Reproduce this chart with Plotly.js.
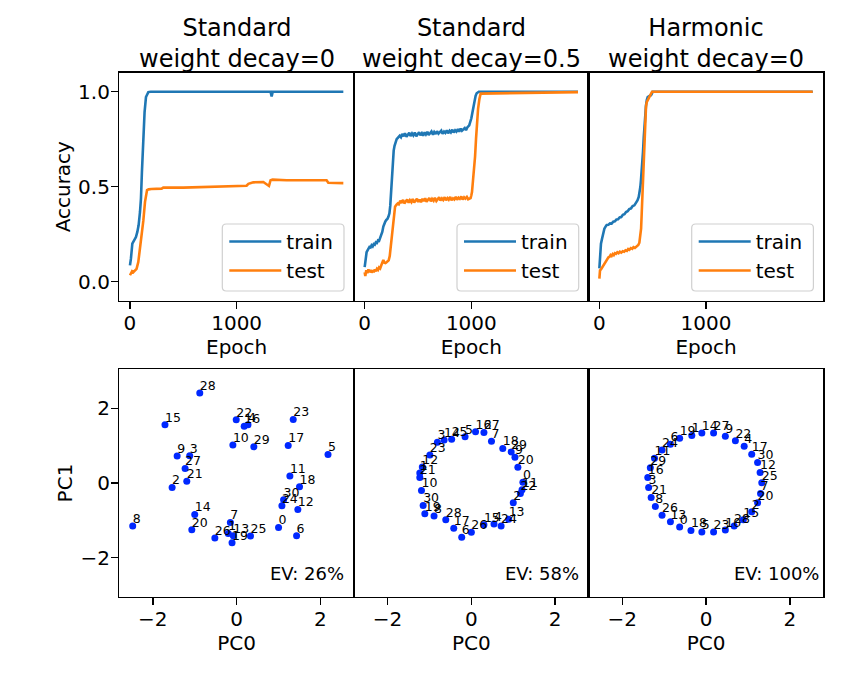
<!DOCTYPE html>
<html>
<head>
<meta charset="utf-8">
<script src="https://cdn.plot.ly/plotly-3.0.1.min.js"></script>
<style>html,body{margin:0;padding:0;background:#fff;}#chart{width:864px;height:698px;}</style>
</head>
<body>
<div id="chart"></div>
<script>
// ---------------- DATA ----------------
const panelTitles = ["Standard<br>weight decay=0", "Standard<br>weight decay=0.5", "Harmonic<br>weight decay=0"];
const evLabels = ["EV: 26%", "EV: 58%", "EV: 100%"];
const seriesNames = ["train", "test"];

// Panel 1: Standard, weight decay = 0
const epochTrain1 = [0, 9, 22, 37, 56, 69, 81, 94, 103, 112, 125, 137, 150, 172, 194, 600, 1000, 1300, 1318, 1328, 1338, 1360, 2000];
const accTrain1 = [0.086, 0.121, 0.200, 0.218, 0.235, 0.262, 0.297, 0.367, 0.437, 0.577, 0.753, 0.893, 0.972, 0.998, 1.0, 1.0, 1.0, 1.0, 1.0, 0.975, 1.0, 1.0, 1.0];
const epochTest1 = [0, 10, 20, 31, 47, 62, 78, 94, 109, 125, 141, 150, 160, 175, 200, 297, 312, 500, 781, 800, 1093, 1110, 1156, 1250, 1281, 1303, 1318, 1337, 1468, 1843, 1859, 1968, 2000];
const accTest1 = [0.034, 0.045, 0.055, 0.050, 0.060, 0.068, 0.103, 0.174, 0.230, 0.320, 0.420, 0.465, 0.482, 0.486, 0.488, 0.490, 0.495, 0.495, 0.498, 0.502, 0.505, 0.515, 0.523, 0.525, 0.511, 0.504, 0.534, 0.537, 0.534, 0.534, 0.521, 0.519, 0.519];

// Panel 2: Standard, weight decay = 0.5
const epochTrain2 = [0, 9, 18, 27, 36, 45, 55, 65, 75, 85, 95, 105, 115, 125, 135, 145, 155, 165, 175, 183, 193, 203, 213, 223, 232, 240, 247, 253, 259, 265, 272, 280, 290, 300, 315, 328,
  340, 352, 366, 378, 392, 404, 418, 430, 444, 456, 470, 484, 496, 510, 522, 536, 548, 562, 574, 588, 600, 614, 626, 640, 652, 666, 678, 692, 704, 718, 730, 744, 756, 770, 782, 796, 808, 822, 834, 848, 860, 874, 886, 900, 912, 926, 938, 950, 962,
  980, 990, 1000, 1010, 1020, 1030, 1040, 1050, 1060, 1070, 2000];
const accTrain2 = [0.077, 0.120, 0.155, 0.165, 0.172, 0.183, 0.180, 0.192, 0.186, 0.198, 0.195, 0.207, 0.204, 0.217, 0.215, 0.232, 0.240, 0.262, 0.290, 0.308, 0.316, 0.325, 0.330, 0.343, 0.360, 0.400, 0.460, 0.530, 0.600, 0.650, 0.690, 0.715, 0.738, 0.750, 0.760, 0.768,
  0.760, 0.778, 0.765, 0.781, 0.763, 0.776, 0.784, 0.767, 0.780, 0.770, 0.785, 0.766, 0.779, 0.787, 0.771, 0.782, 0.769, 0.786, 0.775, 0.789, 0.772, 0.784, 0.791, 0.774, 0.788, 0.777, 0.792, 0.779, 0.786, 0.795, 0.778, 0.790, 0.783, 0.797, 0.781, 0.794, 0.786, 0.800, 0.785, 0.797, 0.790, 0.803, 0.789, 0.806, 0.795, 0.802, 0.809, 0.798, 0.812,
  0.823, 0.840, 0.860, 0.890, 0.925, 0.955, 0.978, 0.992, 0.998, 1.0, 1.0];
const epochTest2 = [0, 6, 15, 25, 35, 45, 55, 65, 75, 85, 95, 105, 115, 125, 135, 145, 155, 165, 175, 185, 195, 205, 215, 225, 235, 245, 255, 265, 275, 285, 297, 310,
  320, 334, 346, 360, 372, 386, 398, 412, 424, 438, 450, 464, 476, 490, 502, 516, 528, 542, 554, 568, 580, 594, 606, 620, 632, 646, 658, 672, 684, 698, 710, 724, 736, 750, 762, 776, 788, 802, 814, 828, 840, 854, 866, 880, 892, 906, 918, 932, 944, 958,
  970, 985, 993, 1000, 1006, 1015, 1025, 1035, 1044, 1054, 1063, 1075, 1087, 2000];
const accTest2 = [0.050, 0.030, 0.060, 0.045, 0.065, 0.050, 0.062, 0.048, 0.060, 0.050, 0.064, 0.055, 0.068, 0.062, 0.075, 0.070, 0.085, 0.100, 0.115, 0.100, 0.098, 0.102, 0.105, 0.112, 0.135, 0.190, 0.245, 0.310, 0.367, 0.395, 0.405, 0.412,
  0.408, 0.426, 0.414, 0.431, 0.412, 0.424, 0.433, 0.416, 0.429, 0.419, 0.435, 0.417, 0.428, 0.437, 0.420, 0.432, 0.418, 0.436, 0.424, 0.439, 0.421, 0.433, 0.441, 0.423, 0.436, 0.426, 0.442, 0.425, 0.434, 0.444, 0.427, 0.438, 0.430, 0.445, 0.428, 0.440, 0.432, 0.446, 0.429, 0.439, 0.433, 0.447, 0.431, 0.442, 0.436, 0.448, 0.432, 0.444, 0.437, 0.446, 0.434, 0.441,
  0.440, 0.455, 0.472, 0.530, 0.580, 0.660, 0.753, 0.840, 0.910, 0.960, 0.990, 0.998, 1.0, 1.0];

// Panel 3: Harmonic, weight decay = 0
const epochTrain3 = [0, 6, 15, 25, 36, 47, 58, 69, 85, 100, 115, 130, 145, 160, 175, 190, 205, 220, 235, 250, 265, 280, 297, 312, 328, 344, 357, 369, 377, 384, 390, 397, 403, 409, 416, 422, 430, 437, 445, 453, 470, 484, 492, 500, 2000];
const accTrain3 = [0.070, 0.156, 0.200, 0.226, 0.255, 0.279, 0.290, 0.299, 0.300, 0.307, 0.306, 0.316, 0.318, 0.327, 0.328, 0.338, 0.340, 0.352, 0.355, 0.367, 0.371, 0.382, 0.386, 0.398, 0.402, 0.416, 0.428, 0.446, 0.470, 0.498, 0.535, 0.577, 0.630, 0.683, 0.760, 0.823, 0.885, 0.928, 0.958, 0.972, 0.978, 0.981, 0.990, 1.0, 1.0];
const epochTest3 = [0, 6, 15, 25, 35, 47, 55, 62, 75, 85, 94, 105, 115, 125, 135, 145, 156, 168, 180, 192, 205, 219, 232, 245, 258, 270, 281, 295, 308, 320, 333, 344, 355, 365, 375, 384, 391, 397, 402, 406, 410, 414, 419, 425, 431, 437, 444, 455, 469, 480, 494, 2000];
const accTest3 = [0.016, 0.060, 0.065, 0.075, 0.080, 0.095, 0.105, 0.113, 0.120, 0.128, 0.130, 0.140, 0.135, 0.145, 0.140, 0.150, 0.147, 0.155, 0.150, 0.158, 0.153, 0.160, 0.158, 0.165, 0.162, 0.172, 0.168, 0.177, 0.173, 0.182, 0.178, 0.185, 0.186, 0.193, 0.205, 0.240, 0.279, 0.360, 0.440, 0.500, 0.580, 0.650, 0.720, 0.800, 0.876, 0.920, 0.945, 0.960, 0.975, 0.985, 1.0, 1.0];

// PCA of token embeddings (tokens 0..30)
const tokens = ["0","1","2","3","4","5","6","7","8","9","10","11","12","13","14","15","16","17","18","19","20","21","22","23","24","25","26","27","28","29","30"];
const pc0Std0 = [1.00, -0.20, -1.54, -1.12, 0.27, 2.18, 1.43, -0.15, -2.48, -1.42, -0.09, 1.27, 1.46, -0.08, -1.00, -1.71, 0.18, 1.23, 1.50, -0.11, -1.07, -1.19, -0.01, 1.35, 1.08, 0.33, -0.52, -1.23, -0.88, 0.41, 1.12];
const pc1Std0 = [-1.19, -1.35, -0.12, 0.73, 1.56, 0.76, -1.41, -1.06, -1.15, 0.72, 1.02, 0.19, -0.71, -1.41, -0.84, 1.56, 1.52, 1.00, -0.10, -1.60, -1.25, 0.05, 1.69, 1.70, -0.61, -1.42, -1.47, 0.39, 2.41, 0.97, -0.45];
const pc0Std05 = [1.23, -1.23, 1.00, -0.81, 0.54, -0.15, -0.23, 0.48, -0.89, 1.04, -1.19, 1.21, -1.17, 0.89, -0.65, 0.30, 0.10, -0.42, 0.75, -1.11, 1.11, -1.23, 1.17, -0.99, 0.71, -0.47, 0.00, 0.30, -0.61, 0.95, -1.15];
const pc1Std05 = [0.02, 0.27, -0.53, 1.09, -1.10, 1.24, -1.45, 1.12, -0.88, 0.69, -0.20, -0.18, 0.43, -0.97, 1.15, -1.12, 1.37, -1.21, 0.92, -0.82, 0.42, 0.15, -0.28, 0.75, -1.15, 1.17, -1.32, 1.35, -0.98, 0.83, -0.60];
const pc0Harm = [-0.63, -0.34, 1.09, -1.37, 0.91, -0.10, -0.85, 1.30, -1.21, 0.46, 0.46, -1.23, 1.29, -0.85, -0.10, 0.89, -1.39, 1.09, -0.36, -0.63, 1.23, -1.31, 0.70, 0.18, -1.05, 1.33, -1.05, 0.18, 0.67, -1.33, 1.23];
const pc1Harm = [-1.18, 1.27, -0.77, -0.12, 0.98, -1.31, 1.04, -0.28, -0.63, 1.25, -1.26, 0.66, 0.28, -1.04, 1.34, -0.98, 0.15, 0.77, -1.27, 1.20, -0.53, -0.39, 1.13, -1.31, 0.88, 0.01, -0.86, 1.34, -1.15, 0.41, 0.55];

// ---------------- STYLE ----------------
const FONT = "DejaVu Sans";
const C_TRAIN = "#1f77b4", C_TEST = "#ff7f0e", C_DOT = "#0028ff";
const W = 864, H = 698;
const xEdges = [119.3, 354.0, 588.7, 823.4];          // px
const topRow = [72.7, 300.7], botRow = [369.0, 597.0];   // px from top
const px = v => v / W, py = v => (H - v) / H;

const curves = [
  [epochTrain1, accTrain1, epochTest1, accTest1],
  [epochTrain2, accTrain2, epochTest2, accTest2],
  [epochTrain3, accTrain3, epochTest3, accTest3]
];
const pcs = [[pc0Std0, pc1Std0], [pc0Std05, pc1Std05], [pc0Harm, pc1Harm]];

const traces = [];
const layout = {
  width: W, height: H,
  margin: {l: 0, r: 0, t: 0, b: 0},
  paper_bgcolor: "white", plot_bgcolor: "white",
  font: {family: FONT, size: 20, color: "black"},
  showlegend: true,
  annotations: [], shapes: []
};

function axisBase() {
  return {
    showline: true, linecolor: "black", linewidth: 1.4, mirror: true,
    showgrid: false, zeroline: false,
    ticks: "outside", ticklen: 7, tickwidth: 1.4, tickcolor: "black",
    tickfont: {family: FONT, size: 20, color: "black"},
    ticklabelstandoff: -3,
    fixedrange: true
  };
}

for (let i = 0; i < 3; i++) {
  const xa = i + 1, xb = i + 4;
  const dom = [px(xEdges[i]), px(xEdges[i + 1])];
  const legName = i === 0 ? "legend" : "legend" + (i + 1);
  const sfx = n => (n === 1 ? "" : String(n));
  const [eTr, aTr, eTe, aTe] = curves[i];

  traces.push({x: eTr, y: aTr, type: "scatter", mode: "lines", name: seriesNames[0],
    line: {color: C_TRAIN, width: 2.6}, xaxis: "x" + sfx(xa), yaxis: "y" + sfx(xa), legend: legName});
  traces.push({x: eTe, y: aTe, type: "scatter", mode: "lines", name: seriesNames[1],
    line: {color: C_TEST, width: 2.6}, xaxis: "x" + sfx(xa), yaxis: "y" + sfx(xa), legend: legName});
  // embedding points
  traces.push({x: pcs[i][0], y: pcs[i][1], type: "scatter", mode: "markers",
    marker: {color: C_DOT, size: 7}, showlegend: false,
    xaxis: "x" + xb, yaxis: "y" + xb, cliponaxis: false});
  // token labels (text drawn at each point, lower-left anchored)
  traces.push({x: pcs[i][0], y: pcs[i][1], text: tokens, type: "scatter", mode: "text",
    marker: {size: 1}, textposition: "top right",
    textfont: {family: FONT, size: 12.5, color: "black"}, showlegend: false,
    xaxis: "x" + xb, yaxis: "y" + xb, cliponaxis: false});

  // top accuracy axes
  layout["xaxis" + sfx(xa)] = Object.assign(axisBase(), {
    domain: dom, anchor: "y" + sfx(xa), range: [-100, 2100], tickvals: [0, 1000],
    title: {text: "Epoch", font: {family: FONT, size: 20}, standoff: 1}
  });
  layout["yaxis" + sfx(xa)] = Object.assign(axisBase(), {
    domain: [py(topRow[1]), py(topRow[0])], anchor: "x" + sfx(xa), range: [-0.1, 1.1],
    tickvals: [0, 0.5, 1], ticktext: ["0.0", "0.5", "1.0"],
    showticklabels: i === 0, ticks: i === 0 ? "outside" : "",
    title: {text: i === 0 ? "Accuracy" : "", font: {family: FONT, size: 20}, standoff: 2}
  });
  // bottom PCA axes
  layout["xaxis" + xb] = Object.assign(axisBase(), {
    domain: dom, anchor: "y" + xb, range: [-2.8, 2.8], tickvals: [-2, 0, 2],
    title: {text: "PC0", font: {family: FONT, size: 20}, standoff: 1}
  });
  layout["yaxis" + xb] = Object.assign(axisBase(), {
    domain: [py(botRow[1]), py(botRow[0])], anchor: "x" + xb, range: [-3.05, 3.05],
    tickvals: [-2, 0, 2], showticklabels: i === 0, ticks: i === 0 ? "outside" : "",
    title: {text: i === 0 ? "PC1" : "", font: {family: FONT, size: 20}, standoff: 2}
  });

  // panel titles
  layout.annotations.push({
    text: panelTitles[i], xref: "paper", yref: "paper",
    x: px((xEdges[i] + xEdges[i + 1]) / 2), y: py(75), xanchor: "center", yanchor: "bottom",
    showarrow: false, font: {family: FONT, size: 24, color: "black"}
  });
  // explained variance
  layout.annotations.push({
    text: evLabels[i], xref: "x" + xb, yref: "y" + xb, x: 1.68, y: -2.42,
    xanchor: "center", yanchor: "middle", showarrow: false,
    font: {family: FONT, size: 18, color: "black"}
  });

  // legend frame
  const lx0 = xEdges[i] + 103, lx1 = xEdges[i] + 224.7, ly0 = 224, ly1 = 291;
  const rx = 4 / W, ry = 4 / H;
  const X0 = px(lx0), X1 = px(lx1), Y0 = py(ly1), Y1 = py(ly0);
  layout.shapes.push({
    type: "path", xref: "paper", yref: "paper", layer: "above",
    path: `M${X0 + rx},${Y0} L${X1 - rx},${Y0} Q${X1},${Y0} ${X1},${Y0 + ry} L${X1},${Y1 - ry} Q${X1},${Y1} ${X1 - rx},${Y1} L${X0 + rx},${Y1} Q${X0},${Y1} ${X0},${Y1 - ry} L${X0},${Y0 + ry} Q${X0},${Y0} ${X0 + rx},${Y0} Z`,
    fillcolor: "rgba(255,255,255,0.8)", line: {color: "#d0d0d0", width: 1.2}
  });
  layout[legName] = {
    x: px(lx0 + 2), y: py(ly0 - 2), xanchor: "left", yanchor: "top",
    bgcolor: "rgba(0,0,0,0)", borderwidth: 0,
    font: {family: FONT, size: 20, color: "black"},
    itemwidth: 52, tracegroupgap: 0
  };
}

Plotly.newPlot("chart", traces, layout, {staticPlot: true, displayModeBar: false});
</script>
</body>
</html>
